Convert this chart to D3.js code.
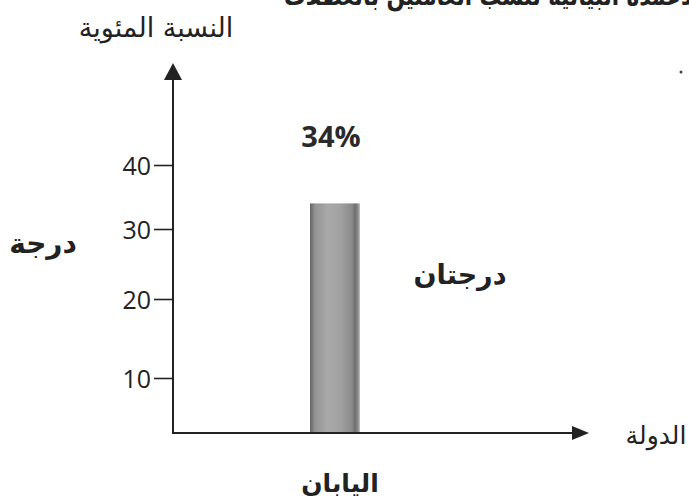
<!DOCTYPE html>
<html>
<head>
    <meta charset="UTF-8">
    <title>Chart</title>
    <script src="https://cdn.jsdelivr.net/npm/d3@7"></script>
    <style>
        body { margin: 0; background: #fff; }
        .ar { font-family: "DejaVu Sans", sans-serif; }
        .num { font-family: "Open Sans", sans-serif; }
    </style>
</head>
<body>
    <script>
        // data
        var countries = ['اليابان']
        var values = [34]
        var yTicks = [10, 20, 30, 40]
        var valueLabels = ['34%']

        var title = 'الأعمدة البيانية لنسب العاملين بالعطلات'
        var yTitle = 'النسبة المئوية'
        var xTitle = 'الدولة'
        var unitOne = 'درجة'
        var unitTwo = 'درجتان'

        var W = 689, H = 504
        var x0 = 173, yBase = 433

        var svg = d3.select('body')
            .append('svg')
            .attr('width', W)
            .attr('height', H)

        // hand drawn axis, spacing is not even
        var y = d3.scaleLinear()
            .domain([0, 10, 20, 30, 40])
            .range([yBase, 378, 299, 229, 165])

        var x = d3.scaleBand()
            .domain(countries)
            .range([260, 410])
            .padding(0.5)

        var grad = svg.append('defs').append('linearGradient')
            .attr('id', 'barGrad')
            .attr('x1', '0%').attr('x2', '100%')
            .attr('y1', '0%').attr('y2', '0%')
        var stops = [[0, '#666'], [0.05, '#7a7a7a'], [0.1, '#939393'], [0.35, '#a9a9a9'],
                     [0.6, '#a2a2a2'], [0.84, '#8a8a8a'], [0.9, '#6f6f6f'], [0.96, '#8a8a8a'], [1, '#c4c4c4']]
        grad.selectAll('stop').data(stops).enter().append('stop')
            .attr('offset', function(d){ return d[0] })
            .attr('stop-color', function(d){ return d[1] })

        // bar
        svg.selectAll('rect.bar')
            .data(values)
            .enter()
            .append('rect')
            .attr('class', 'bar')
            .attr('x', function(d, i){ return x(countries[i]) })
            .attr('width', x.bandwidth())
            .attr('y', function(d){ return y(d) })
            .attr('height', function(d){ return yBase - y(d) })
            .attr('fill', 'url(#barGrad)')

        // y axis ticks
        var yAxis = d3.axisLeft(y)
            .tickValues(yTicks)
            .tickSize(19)
            .tickPadding(3)
        var gy = svg.append('g')
            .attr('transform', 'translate(' + x0 + ',0)')
            .call(yAxis)
        gy.select('.domain').remove()
        gy.selectAll('line').attr('stroke', '#222').attr('stroke-width', 1.6)
        gy.selectAll('text')
            .attr('class', 'num')
            .attr('font-size', 25)
            .attr('fill', '#222')
            .attr('dy', '0.36em')

        // axis lines with arrows
        svg.append('line')
            .attr('x1', x0).attr('y1', yBase + 1)
            .attr('x2', x0).attr('y2', 78)
            .attr('stroke', '#222').attr('stroke-width', 2)
        svg.append('path')
            .attr('d', 'M' + x0 + ',63 L' + (x0 + 9) + ',80 L' + (x0 - 9) + ',80 Z')
            .attr('fill', '#222')

        svg.append('line')
            .attr('x1', x0 - 1).attr('y1', yBase)
            .attr('x2', 574).attr('y2', yBase)
            .attr('stroke', '#222').attr('stroke-width', 2)
        svg.append('path')
            .attr('d', 'M589,' + yBase + ' L572,' + (yBase - 7) + ' L572,' + (yBase + 7) + ' Z')
            .attr('fill', '#222')

        // value label
        svg.selectAll('text.val')
            .data(values)
            .enter()
            .append('text')
            .attr('class', 'num')
            .attr('x', function(d, i){ return x(countries[i]) + x.bandwidth() / 2 - 4 })
            .attr('y', 147)
            .attr('text-anchor', 'middle')
            .attr('font-size', 29)
            .attr('font-weight', 'bold')
            .attr('fill', '#2a2a2a')
            .text(function(d, i){ return valueLabels[i] })

        // category label
        svg.selectAll('text.cat')
            .data(countries)
            .enter()
            .append('text')
            .attr('class', 'ar')
            .attr('x', function(d){ return x(d) + x.bandwidth() / 2 + 5 })
            .attr('y', 492)
            .attr('text-anchor', 'middle')
            .attr('font-size', 25)
            .attr('font-weight', 'bold')
            .attr('fill', '#222')
            .text(function(d){ return d })

        function label(txt, px, py, size, bold, anchor){
            return svg.append('text')
                .attr('class', 'ar')
                .attr('x', px).attr('y', py)
                .attr('text-anchor', anchor || 'middle')
                .attr('font-size', size)
                .attr('font-weight', bold ? 'bold' : 'normal')
                .attr('fill', '#222')
                .attr('direction', 'rtl')
                .text(txt)
        }

        // title is cut by the top edge in the scan
        label(title, 704, 5, 27, true, 'start')
            .attr('textLength', 420)
            .attr('lengthAdjust', 'spacingAndGlyphs')
        label(yTitle, 156, 37, 27, false)
        label(xTitle, 656, 444, 25, false)
        label(unitOne, 43, 253, 28, true)
        label(unitTwo, 460, 284, 27, true)

        svg.append('circle')
            .attr('cx', 681).attr('cy', 72)
            .attr('r', 1.5)
            .attr('fill', '#444')
    </script>
</body>
</html>
